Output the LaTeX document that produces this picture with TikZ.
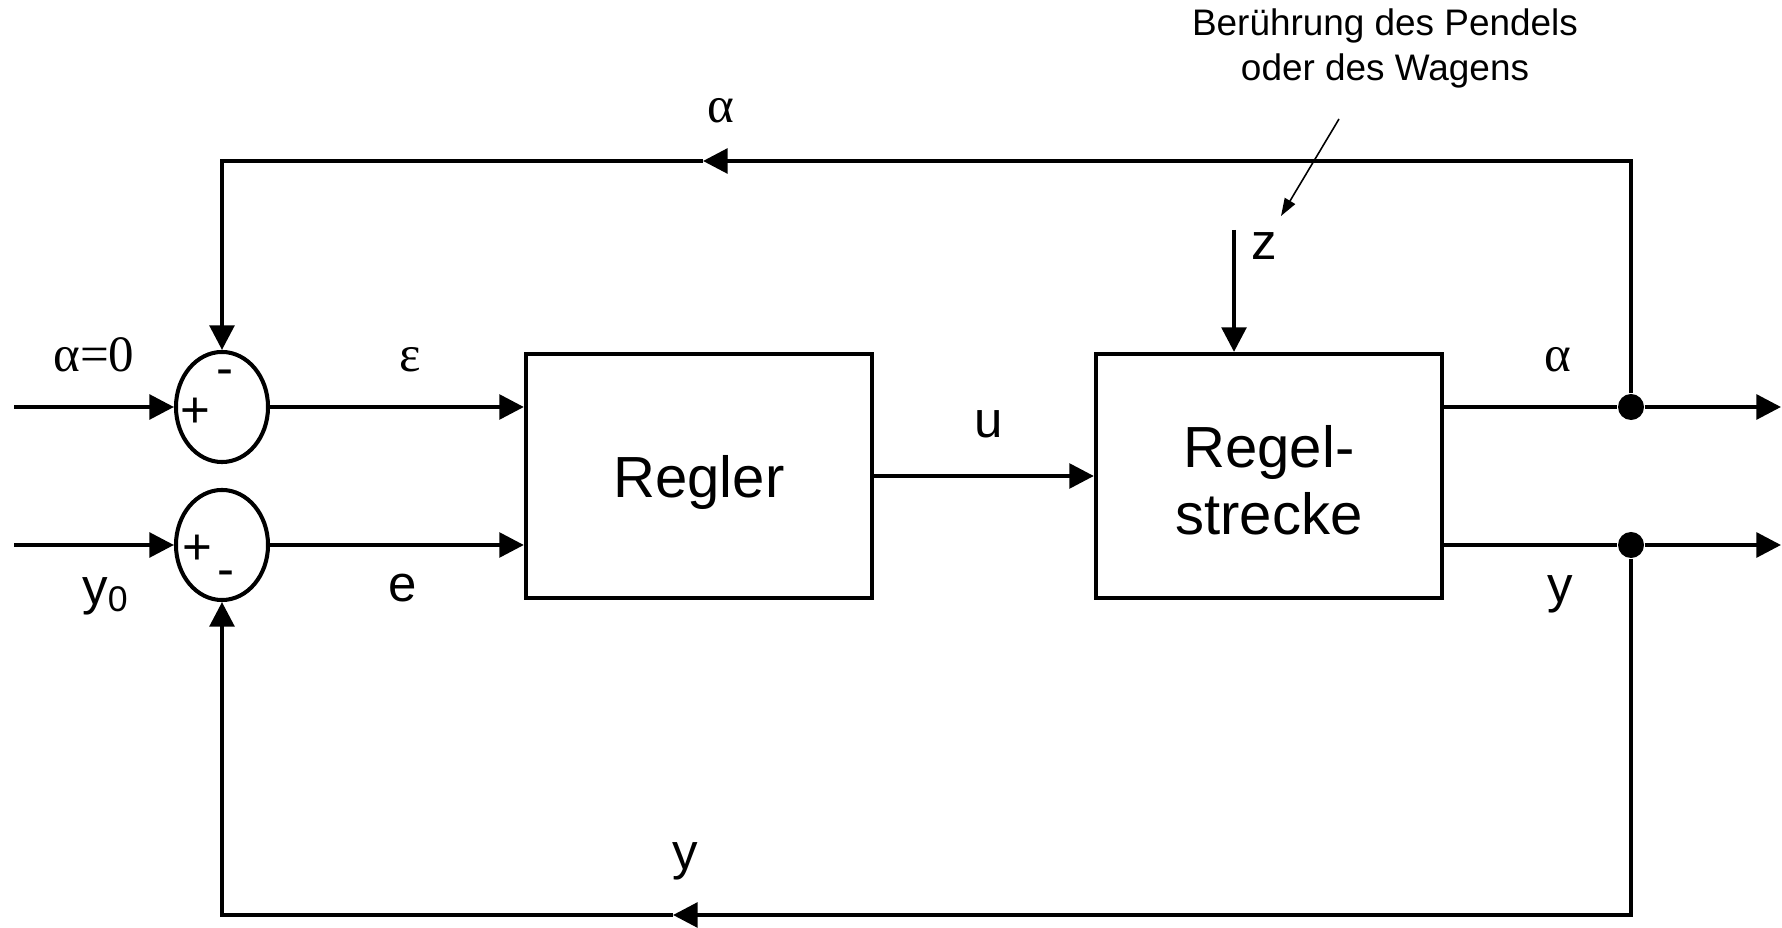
\documentclass[tikz,border=0pt]{standalone}
\usepackage{fontspec}
\setmainfont{Liberation Sans}
\newfontfamily\grk{Liberation Serif}
\usetikzlibrary{arrows.meta, shapes.geometric}

\tikzset{
  line/.style={line width=1.15pt},
  flow/.style={line width=1.15pt, -{Triangle[length=7pt,width=7pt]}},
  block/.style={draw, line width=1.15pt, minimum width=3.46cm, minimum height=2.44cm,
    inner sep=0pt, align=center, font=\fontsize{16.5}{19}\selectfont},
  summer/.style={draw, ellipse, line width=1.15pt, minimum width=0.92cm,
    minimum height=1.1cm, inner sep=0pt},
  junction/.style={circle, fill, minimum size=0.26cm, inner sep=0pt},
  lbl/.style={anchor=base, inner sep=0pt, font=\fontsize{14.5}{17}\selectfont},
  sgn/.style={anchor=base, inner sep=0pt, font=\fontsize{14.5}{17}\selectfont}
}

\begin{document}
\begin{tikzpicture}[x=0.01cm, y=-0.01cm]
    \useasboundingbox (0,0) rectangle (1782,928);

    % summierstellen
    \node[summer] (s1) at (222,407) {};
    \node[summer] (s2) at (222,545) {};
    \node[sgn] (s1m) at (225,386) {-};
    \node[sgn] (s1p) at (195,428) {+};
    \node[sgn] (s2p) at (197,565) {+};
    \node[sgn] (s2m) at (226,587) {-};

    % bloecke
    \node[block, text depth=0pt] (rg) at (699,476) {Regler};
    \node[block, text height=33pt, text depth=0pt] (ps) at (1269,476) {Regel-\\strecke};

    % verzweigungen
    \node[junction] (dA) at (1631,407) {};
    \node[junction] (dY) at (1631,545) {};

    % hilfspunkte
    \coordinate (in1) at (14,407);
    \coordinate (in2) at (14,545);
    \coordinate (outA) at (1781,407);
    \coordinate (outY) at (1781,545);
    \coordinate (zin) at (1234,230);
    \coordinate (ktop) at (703,161);
    \coordinate (kbot) at (673,915);

    % eingaenge
    \draw[flow] (in1) -- (s1.west);
    \draw[flow] (in2) -- (s2.west);

    % vorwaertszweig
    \draw[flow] (s1.east) -- (s1 -| rg.west);
    \draw[flow] (s2.east) -- (s2 -| rg.west);
    \draw[flow] (rg.east) -- (ps.west);
    \draw[flow] (zin) -- (zin |- ps.north);

    % ausgaenge
    \draw[line] (s1 -| ps.east) -- (dA);
    \draw[flow] (dA) -- (outA);
    \draw[line] (s2 -| ps.east) -- (dY);
    \draw[flow] (dY) -- (outY);

    % rueckfuehrung alpha
    \draw[flow] (dA) |- (ktop);
    \draw[flow] (ktop) -| (s1.north);

    % rueckfuehrung y
    \draw[flow] (dY) |- (kbot);
    \draw[flow] (kbot) -| (s2.south);

    % stoerung
    \node[align=center, inner sep=0pt, font=\fontsize{10.5}{12.8}\selectfont] (note) at (1385,48)
        {Berührung des Pendels\\oder des Wagens};
    \coordinate (nstart) at (1339,119);
    \coordinate (nend) at (1281,216);
    \draw[line width=0.45pt, -{Triangle[length=5pt,width=3.4pt]}] (nstart) -- (nend);

    % beschriftungen
    \node[lbl] (la0) at (94,372) {\grk α=0};
    \node[lbl] (ly0) at (106,604) {y\textsubscript{0}};
    \node[lbl] (leps) at (410,372) {\grk ε};
    \node[lbl] (le) at (403,602) {e};
    \node[lbl] (lu) at (989,438) {u};
    \node[lbl] (lz) at (1264,260) {z};
    \node[lbl] (latop) at (721,123) {\grk α};
    \node[lbl] (laout) at (1558,372) {\grk α};
    \node[lbl] (lyout) at (1560,603) {y};
    \node[lbl] (lybot) at (685,869) {y};
\end{tikzpicture}
\end{document}
